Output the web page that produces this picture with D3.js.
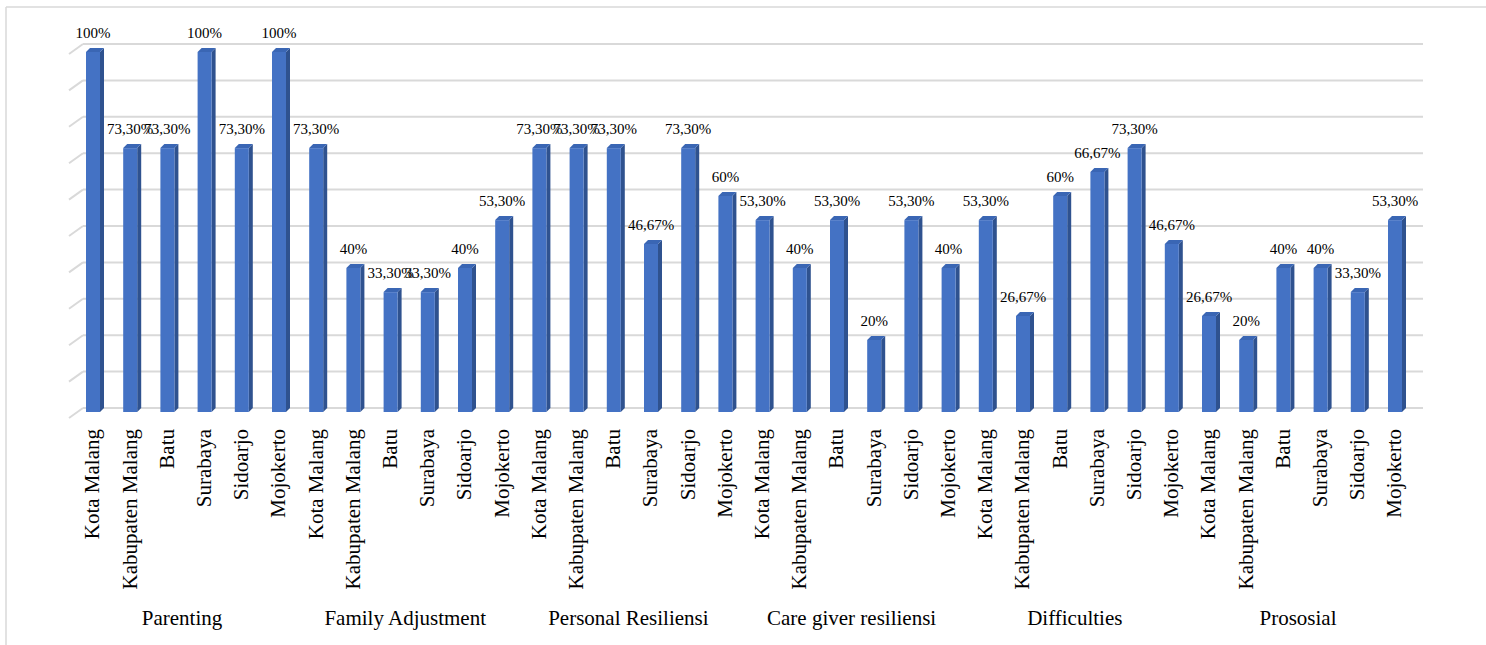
<!DOCTYPE html>
<html>
<head>
<meta charset="utf-8">
<script src="https://cdn.jsdelivr.net/npm/d3@7"></script>
<style>
  body { margin: 0; background: #fff; }
  svg { display: block; }
</style>
</head>
<body>
<svg id="chart" width="1486" height="645"></svg>
<script>
// categorie (gruppi) e città
var groups = ["Parenting", "Family Adjustment", "Personal Resiliensi", "Care giver resiliensi", "Difficulties", "Prososial"];
var cities = ["Kota Malang", "Kabupaten Malang", "Batu", "Surabaya", "Sidoarjo", "Mojokerto"];

// valori in percentuale, un array per gruppo
var parenting   = [100, 73.3, 73.3, 100, 73.3, 100];
var familyAdj   = [73.3, 40, 33.3, 33.3, 40, 53.3];
var personalRes = [73.3, 73.3, 73.3, 46.67, 73.3, 60];
var caregiver   = [53.3, 40, 53.3, 20, 53.3, 40];
var difficulties = [53.3, 26.67, 60, 66.67, 73.3, 46.67];
var prososial   = [26.67, 20, 40, 40, 33.3, 53.3];
var gridTicks = [0, 10, 20, 30, 40, 50, 60, 70, 80, 90, 100];

var series = [parenting, familyAdj, personalRes, caregiver, difficulties, prososial];

var FONT = "Liberation Serif";

var rows = [];
series.forEach(function(vals, g) {
    vals.forEach(function(v, c) {
        rows.push({key: g + "-" + c, group: groups[g], gi: g, city: cities[c], value: v});
    });
});

function fmt(v) {
    if (Number.isInteger(v)) return v + "%";
    return v.toFixed(2).replace(".", ",") + "%";
}

var svg = d3.select("#chart");

// cornice
svg.append("line").attr("x1", 6).attr("y1", 7).attr("x2", 1486).attr("y2", 7)
    .attr("stroke", "#d9d9d9").attr("stroke-width", 1.5);
svg.append("line").attr("x1", 6).attr("y1", 7).attr("x2", 6).attr("y2", 645)
    .attr("stroke", "#d9d9d9").attr("stroke-width", 1.5);

var x = d3.scaleBand().domain(rows.map(function(d) { return d.key; }))
    .range([74.4, 1413.6]).padding(0);
var y = d3.scaleLinear().domain([0, 100]).range([412, 52]);      // faccia frontale
var yWall = d3.scaleLinear().domain([0, 100]).range([408, 44]);  // parete di fondo

var barW = 14, depth = 4;

// griglia (parete di fondo + parete sinistra)
var grid = svg.append("g");
grid.selectAll("line.h").data(gridTicks).enter().append("line")
    .attr("class", "h")
    .attr("x1", 83).attr("x2", 1423)
    .attr("y1", function(d) { return yWall(d); })
    .attr("y2", function(d) { return yWall(d); })
    .attr("stroke", "#d9d9d9").attr("stroke-width", 2);
grid.selectAll("line.d").data(gridTicks).enter().append("line")
    .attr("class", "d")
    .attr("x1", 69).attr("x2", 83)
    .attr("y1", function(d) { return yWall(d) + 10; })
    .attr("y2", function(d) { return yWall(d); })
    .attr("stroke", "#d9d9d9").attr("stroke-width", 2);

// barre 3D
var bars = svg.append("g").selectAll("g").data(rows).enter().append("g");

function cx(d) { return x(d.key) + x.bandwidth() / 2; }

bars.append("path")   // lato
    .attr("fill", "#2f528f")
    .attr("d", function(d) {
        var x0 = cx(d) + barW / 2, t = y(d.value), b = y(0);
        return "M" + x0 + "," + t + "L" + (x0 + depth) + "," + (t - depth) +
               "L" + (x0 + depth) + "," + (b - depth) + "L" + x0 + "," + b + "Z";
    });
bars.append("path")   // cima
    .attr("fill", "#3a66b4")
    .attr("d", function(d) {
        var x0 = cx(d) - barW / 2, t = y(d.value);
        return "M" + x0 + "," + t + "L" + (x0 + depth) + "," + (t - depth) +
               "L" + (x0 + barW + depth) + "," + (t - depth) + "L" + (x0 + barW) + "," + t + "Z";
    });
bars.append("rect")   // fronte
    .attr("fill", "#4472c4")
    .attr("x", function(d) { return cx(d) - barW / 2; })
    .attr("y", function(d) { return y(d.value); })
    .attr("width", barW)
    .attr("height", function(d) { return y(0) - y(d.value); });

// etichette valori
bars.append("text")
    .attr("x", function(d) { return cx(d); })
    .attr("y", function(d) { return y(d.value) - 14; })
    .attr("text-anchor", "middle")
    .attr("font-family", FONT)
    .attr("font-size", 15)
    .text(function(d) { return fmt(d.value); });

// etichette città (ruotate)
svg.append("g").selectAll("text").data(rows).enter().append("text")
    .attr("transform", function(d) { return "translate(" + cx(d) + ",429) rotate(-90)"; })
    .attr("text-anchor", "end")
    .attr("dy", "0.3em")
    .attr("font-family", FONT)
    .attr("font-size", 21)
    .text(function(d) { return d.city; });

// etichette gruppi
svg.append("g").selectAll("text").data(groups).enter().append("text")
    .attr("x", function(g, i) {
        var ks = rows.filter(function(r) { return r.gi === i; });
        return (cx(ks[0]) + cx(ks[ks.length - 1])) / 2 - 4;
    })
    .attr("y", 625)
    .attr("text-anchor", "middle")
    .attr("font-family", FONT)
    .attr("font-size", 21)
    .text(function(g) { return g; });
</script>
</body>
</html>
